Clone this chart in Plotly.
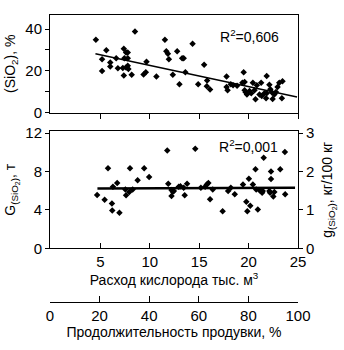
import plotly.graph_objects as go

# ---- Top panel data: (SiO2), % vs oxygen consumption ----
top_x = [4.54, 5.17, 5.17, 5.6, 6.0, 6.0, 6.6, 6.77, 7.37, 7.37, 7.43, 7.6, 7.77, 7.77, 7.6,
         7.27, 7.77, 7.83, 8.17, 8.5, 9.37, 9.6, 9.67, 10.67, 11.53, 11.67, 11.83, 11.93, 12.33,
         12.77, 13.0, 13.27, 13.43, 13.6, 14.33, 14.9, 15.5, 15.8, 15.77, 16.1, 17.77, 17.77,
         17.87, 18.2, 18.43, 18.83, 19.37, 19.5, 19.6, 19.6, 19.7, 19.83, 20.1, 20.27, 20.43,
         20.6, 20.7, 20.83, 21.1, 21.27, 21.33, 21.6, 21.83, 21.77, 22.1, 22.2, 22.37, 22.43,
         22.6, 22.77, 22.93, 23.1, 23.37, 23.43, 21.83]
top_y = [34.9, 25.5, 19.9, 29.8, 24.0, 22.1, 26.0, 21.2, 30.5, 17.8, 26.0, 28.7, 28.7, 26.0, 21.6,
         21.3, 22.4, 20.9, 18.1, 38.8, 18.2, 19.3, 24.3, 17.3, 34.9, 29.4, 28.2, 25.5, 18.1,
         29.4, 13.6, 26.0, 26.0, 19.3, 32.9, 13.6, 22.9, 15.4, 12.6, 11.1, 17.3, 12.3,
         10.7, 13.6, 13.1, 12.8, 14.3, 19.3, 14.6, 10.7, 9.7, 8.7, 10.3, 9.3, 14.3,
         10.7, 6.4, 13.1, 8.7, 14.3, 7.9, 9.3, 17.5, 6.9, 13.3, 11.2, 9.6, 6.5,
         8.6, 9.9, 12.3, 14.3, 6.9, 15.0, 9.3]
top_trend_x = [4.5, 24.9]
top_trend_y = [28.2, 7.5]

# ---- Bottom panel data: G(SiO2), t ----
bot_x = [4.67, 5.43, 5.77, 6.17, 6.2, 6.27, 6.7, 6.93, 7.53, 7.6, 7.93, 8.0, 8.27, 8.77, 9.43,
         9.93, 11.77, 11.87, 12.2, 12.2, 12.33, 12.43, 12.93, 13.1, 13.43, 13.53, 13.77, 14.6,
         15.17, 15.6, 15.77, 15.93, 16.1, 16.37, 17.37, 17.93, 18.2, 18.6, 19.43, 19.77, 19.87,
         20.03, 20.17, 20.43, 20.7, 20.77, 20.93, 21.1, 21.43, 21.53, 22.1, 22.17, 22.27, 22.27,
         22.5, 22.6, 23.2, 23.67, 23.7, 21.37]
bot_y = [5.56, 5.05, 8.34, 4.68, 3.94, 6.41, 6.82, 3.70, 6.14, 5.53, 5.87, 8.34, 6.14, 7.09, 8.34,
         7.43, 10.2, 6.74, 6.07, 5.46, 5.9, 5.97, 6.41, 6.48, 6.3, 5.53, 6.74, 10.38,
         6.3, 6.41, 6.65, 6.82, 5.12, 6.14, 3.87, 5.97, 6.3, 5.63, 6.65, 4.85, 3.87,
         7.26, 4.44, 6.65, 8.24, 6.14, 4.04, 6.04, 5.97, 9.43, 5.97, 5.8, 7.22, 8.0,
         5.39, 5.87, 8.24, 10.04, 5.63, 5.8]
bot_trend_x = [4.7, 24.7]
bot_trend_y = [6.24, 6.3]

x_ticks = [5, 10, 15, 20, 25]
top_y_ticks = [0, 10, 20, 30, 40]
top_y_labels = ["0", "", "20", "", "40"]
bot_y_ticks = [0, 4, 8, 12]
right_y_ticks = [0, 1, 2, 3]
dur_ticks = [0, 20, 40, 60, 80, 100]

FONT = "Liberation Sans"
INK = "#000000"

fig = go.Figure()
mk = dict(symbol="diamond", size=5, color=INK)
fig.add_trace(go.Scatter(x=top_x, y=top_y, mode="markers", marker=mk, xaxis="x", yaxis="y"))
fig.add_trace(go.Scatter(x=top_trend_x, y=top_trend_y, mode="lines",
                         line=dict(color=INK, width=1.5), xaxis="x", yaxis="y"))
fig.add_trace(go.Scatter(x=bot_x, y=bot_y, mode="markers", marker=mk, xaxis="x2", yaxis="y2"))
fig.add_trace(go.Scatter(x=bot_trend_x, y=bot_trend_y, mode="lines",
                         line=dict(color=INK, width=2.5), xaxis="x2", yaxis="y2"))
# right axis carrier
fig.add_trace(go.Scatter(x=[0], y=[0], mode="markers", marker=dict(opacity=0),
                         xaxis="x2", yaxis="y3", hoverinfo="skip"))
# blowing duration axis carrier
fig.add_trace(go.Scatter(x=[0], y=[0], mode="markers", marker=dict(opacity=0),
                         xaxis="x3", yaxis="y2", hoverinfo="skip"))

axcommon = dict(showgrid=False, zeroline=False, showline=True, linecolor=INK, linewidth=1,
                tickcolor=INK, tickfont=dict(family=FONT, size=15, color=INK))

fig.update_layout(
    width=344, height=350,
    margin=dict(l=50, r=44, t=8, b=48),
    paper_bgcolor="white", plot_bgcolor="white",
    showlegend=False,
    font=dict(family=FONT, color=INK),
    xaxis=dict(**axcommon, domain=[0, 0.992], range=[-0.1, 25], anchor="y", mirror=True,
               tickvals=x_ticks, showticklabels=False, ticks="outside", ticklen=5),
    yaxis=dict(**axcommon, domain=[0.660, 1.0], range=[0, 46.7], anchor="x", mirror=True,
               tickvals=top_y_ticks, ticktext=top_y_labels, ticks="outside", ticklen=4,
               title=dict(text="(SiO<sub>2</sub>), %", font=dict(family=FONT, size=14, color=INK),
                          standoff=6)),
    xaxis2=dict(**axcommon, domain=[0, 0.992], range=[-0.1, 25], anchor="y2", mirror=True,
                tickvals=x_ticks, ticks="inside", ticklen=5,
                title=dict(text="Расход кислорода тыс. м<sup>3</sup>",
                           font=dict(family=FONT, size=14, color=INK), standoff=2)),
    yaxis2=dict(**axcommon, domain=[0.187, 0.595], range=[0, 12.2], anchor="x2", mirror=True,
                tickvals=bot_y_ticks, ticks="outside", ticklen=4,
                title=dict(text="G<sub>(SiO<sub>2</sub>)</sub>, т",
                           font=dict(family=FONT, size=14, color=INK), standoff=6)),
    yaxis3=dict(**axcommon, domain=[0.187, 0.595], range=[0, 3.05], anchor="x2",
                overlaying="y2", side="right",
                tickvals=right_y_ticks, ticks="outside", ticklen=4,
                title=dict(text="g<sub>(SiO<sub>2</sub>)</sub>, кг/100 кг",
                           font=dict(family=FONT, size=14, color=INK), standoff=8)),
    xaxis3=dict(**axcommon, domain=[0.012, 1.0], range=[0, 100], anchor="free", position=0,
                overlaying="x2",
                tickvals=dur_ticks, ticks="inside", ticklen=6,
                title=dict(text="Продолжительность продувки, %",
                           font=dict(family=FONT, size=14, color=INK), standoff=2)),
)
fig.add_annotation(text="R<sup>2</sup>=0,606", xref="paper", yref="paper",
                   x=(249 - 50) / 250, y=(302 - 30) / 294, showarrow=False,
                   xanchor="center", yanchor="middle",
                   font=dict(family=FONT, size=14, color=INK))
fig.add_annotation(text="R<sup>2</sup>=0,001", xref="paper", yref="paper",
                   x=(248 - 50) / 250, y=(302 - 142) / 294, showarrow=False,
                   xanchor="center", yanchor="middle",
                   font=dict(family=FONT, size=14, color=INK))

fig.write_html("out.html")
